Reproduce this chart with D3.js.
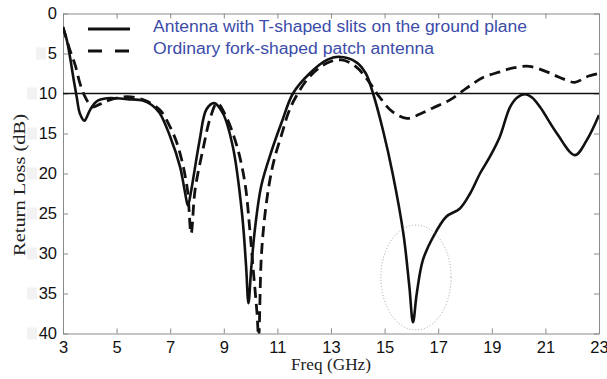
<!DOCTYPE html>
<html>
<head>
<meta charset="utf-8">
<script src="https://cdn.jsdelivr.net/npm/d3@7"></script>
<style>
  body { margin: 0; background: #fff; }
  svg { display: block; }
</style>
</head>
<body>
<svg id="chart"></svg>
<script>
const width = 607
const height = 379
const margin = { top: 13.5, right: 8, bottom: 45.5, left: 63 }

// Freq (GHz) ticks and Return Loss (dB) ticks
const xTicks = [3, 5, 7, 9, 11, 13, 15, 17, 19, 21, 23]
const yTicks = [0, 5, 10, 15, 20, 25, 30, 35, 40]

const seriesNames = [
  'Antenna with T-shaped slits on the ground plane',
  'Ordinary fork-shaped patch antenna',
]

// T-shaped slits antenna (solid)
const slitFreq = [3.0, 3.14, 3.26, 3.38, 3.51, 3.63, 3.8, 3.92, 4.05, 4.3, 4.65, 5.0, 5.4, 6.0, 6.3, 6.6, 7.0, 7.37, 7.55, 7.66, 7.78, 7.88, 8.1, 8.35, 8.64, 8.97, 9.34, 9.68, 9.83, 9.92, 10.02, 10.16, 10.4, 10.8, 11.17, 11.58, 12.2, 12.85, 13.3, 13.95, 14.3, 14.57, 14.94, 15.3, 15.7, 15.92, 16.06, 16.2, 16.43, 16.8, 17.3, 17.8, 18.19, 18.56, 18.93, 19.3, 19.68, 19.95, 20.24, 20.5, 20.8, 21.43, 22.1, 22.55, 23.0]
const slitLoss = [1.7, 3.3, 5.4, 7.9, 10.4, 12.5, 13.4, 12.7, 11.8, 10.9, 10.6, 10.6, 10.7, 10.9, 11.4, 12.4, 15.4, 19.2, 22.3, 24.0, 22.2, 20.2, 15.8, 12.0, 11.2, 12.5, 16.7, 25.0, 31.5, 36.2, 32.0, 27.0, 21.5, 17.0, 13.5, 10.0, 7.5, 5.8, 5.4, 6.1, 7.5, 10.0, 14.6, 20.0, 27.5, 34.0, 38.6, 35.0, 30.8, 28.0, 25.4, 24.4, 22.5, 20.0, 17.9, 15.4, 11.7, 10.5, 10.1, 10.5, 11.7, 15.0, 17.7, 15.8, 12.7]

// ordinary fork-shaped patch antenna (dashed)
const forkFreq = [3.0, 3.26, 3.45, 3.63, 3.82, 4.0, 4.1, 4.4, 4.75, 5.4, 6.0, 6.6, 7.0, 7.3, 7.63, 7.78, 7.93, 8.24, 8.5, 8.75, 9.1, 9.5, 9.79, 9.97, 10.09, 10.24, 10.3, 10.4, 10.54, 10.72, 10.9, 11.17, 11.4, 11.66, 12.2, 12.85, 13.4, 13.95, 14.45, 14.8, 15.3, 15.83, 16.3, 16.8, 17.44, 18.07, 18.67, 19.3, 19.8, 20.4, 21.06, 21.54, 22.1, 22.55, 23.0]
const forkLoss = [1.7, 4.6, 6.4, 8.7, 10.4, 11.4, 11.7, 11.3, 10.8, 10.4, 10.8, 12.0, 14.2, 16.7, 21.7, 27.5, 22.0, 16.7, 13.0, 11.2, 13.0, 16.7, 21.2, 27.0, 31.7, 37.5, 40.6, 30.4, 25.0, 20.8, 18.0, 15.0, 12.5, 10.6, 7.9, 6.2, 5.8, 6.7, 8.7, 10.4, 12.3, 13.1, 12.6, 11.8, 10.8, 9.3, 8.0, 7.3, 6.8, 6.6, 7.3, 8.0, 8.6, 7.9, 7.5]

const threshold = 10
// dotted ellipse marking the 16 GHz resonance: [freq, dB, rx GHz, ry dB]
const highlight = [16.17, 33, 1.31, 6.56]

const svg = d3.select('#chart')
  .attr('width', width)
  .attr('height', height)

const x = d3.scaleLinear().domain([3, 23]).range([margin.left, width - margin.right])
const y = d3.scaleLinear().domain([0, 40]).range([margin.top, height - margin.bottom])

svg.append('defs').append('clipPath').attr('id', 'plot')
  .append('rect')
    .attr('x', x(3)).attr('y', y(0))
    .attr('width', x(23) - x(3)).attr('height', y(40) - y(0))

// faint grey patches that sit left of the y tick labels in the source
svg.append('g').selectAll('rect')
  .data(yTicks.slice(1))
  .join('rect')
    .attr('x', (d) => d < 10 ? 36 : 27)
    .attr('y', (d) => y(d) - 6)
    .attr('width', 10)
    .attr('height', 12)
    .attr('fill', '#f2f2f2')

const axisColor = '#8a8a8a'
const styleAxis = (g) => {
  g.select('.domain').attr('stroke', axisColor)
  g.selectAll('.tick line').attr('stroke', axisColor)
  g.selectAll('.tick text')
    .attr('fill', '#111')
    .style('font-family', 'Liberation Sans, Arial, sans-serif')
    .style('font-size', '16.5px')
}

svg.append('g')
  .attr('transform', `translate(0,${y(40)})`)
  .call(d3.axisBottom(x).tickValues(xTicks).tickSize(-5).tickSizeOuter(0).tickPadding(8))
  .call(styleAxis)

svg.append('g')
  .attr('transform', `translate(${x(3)},0)`)
  .call(d3.axisLeft(y).tickValues(yTicks).tickSize(-5).tickSizeOuter(0).tickPadding(6))
  .call(styleAxis)

svg.append('g')
  .attr('transform', `translate(0,${y(0)})`)
  .call(d3.axisTop(x).tickValues(xTicks).tickSize(-5).tickSizeOuter(0).tickFormat(''))
  .call(styleAxis)

svg.append('g')
  .attr('transform', `translate(${x(23)},0)`)
  .call(d3.axisRight(y).tickValues(yTicks).tickSize(-5).tickSizeOuter(0).tickFormat(''))
  .call(styleAxis)

// axis titles
svg.append('text')
  .attr('x', (x(3) + x(23)) / 2)
  .attr('y', 370)
  .attr('text-anchor', 'middle')
  .attr('textLength', 80)
  .attr('lengthAdjust', 'spacingAndGlyphs')
  .style('font-family', 'Liberation Serif, Times New Roman, serif')
  .style('font-size', '17px')
  .attr('fill', '#222')
  .text('Freq (GHz)')

svg.append('text')
  .attr('transform', 'translate(25,185) rotate(-90)')
  .attr('text-anchor', 'middle')
  .attr('textLength', 142)
  .attr('lengthAdjust', 'spacingAndGlyphs')
  .style('font-family', 'Liberation Serif, Times New Roman, serif')
  .style('font-size', '16px')
  .attr('fill', '#222')
  .text('Return Loss (dB)')

const plot = svg.append('g').attr('clip-path', 'url(#plot)')

// -10 dB reference line
plot.append('line')
  .attr('x1', x(3)).attr('x2', x(23))
  .attr('y1', y(threshold)).attr('y2', y(threshold))
  .attr('stroke', '#111')
  .attr('stroke-width', 1.6)

const line = d3.line()
  .x((d) => x(d[0]))
  .y((d) => y(d[1]))
  .curve(d3.curveCatmullRom.alpha(0.5))

plot.append('path')
  .datum(d3.zip(forkFreq, forkLoss))
  .attr('d', line)
  .attr('fill', 'none')
  .attr('stroke', '#111')
  .attr('stroke-width', 2.8)
  .attr('stroke-dasharray', '11,6')

plot.append('path')
  .datum(d3.zip(slitFreq, slitLoss))
  .attr('d', line)
  .attr('fill', 'none')
  .attr('stroke', '#111')
  .attr('stroke-width', 2.6)
  .attr('stroke-linejoin', 'round')

plot.append('ellipse')
  .attr('cx', x(highlight[0]))
  .attr('cy', y(highlight[1]))
  .attr('rx', x(highlight[0] + highlight[2]) - x(highlight[0]))
  .attr('ry', y(highlight[1] + highlight[3]) - y(highlight[1]))
  .attr('fill', 'none')
  .attr('stroke', '#999')
  .attr('stroke-width', 0.9)
  .attr('stroke-dasharray', '1,2')

// legend
const legend = svg.append('g')
const legendRows = [
  { name: seriesNames[0], y: 29, dash: null, len: 374 },
  { name: seriesNames[1], y: 51, dash: '14,13', len: 281 },
]
legendRows.forEach((row) => {
  legend.append('line')
    .attr('x1', 88).attr('x2', 130)
    .attr('y1', row.y).attr('y2', row.y)
    .attr('stroke', '#111')
    .attr('stroke-width', 3)
    .attr('stroke-dasharray', row.dash)
  legend.append('text')
    .attr('x', 153)
    .attr('y', row.y + 3)
    .attr('textLength', row.len)
    .attr('lengthAdjust', 'spacingAndGlyphs')
    .style('font-family', 'Liberation Sans, Arial, sans-serif')
    .style('font-size', '16px')
    .attr('fill', '#3b4caa')
    .text(row.name)
})
</script>
</body>
</html>
